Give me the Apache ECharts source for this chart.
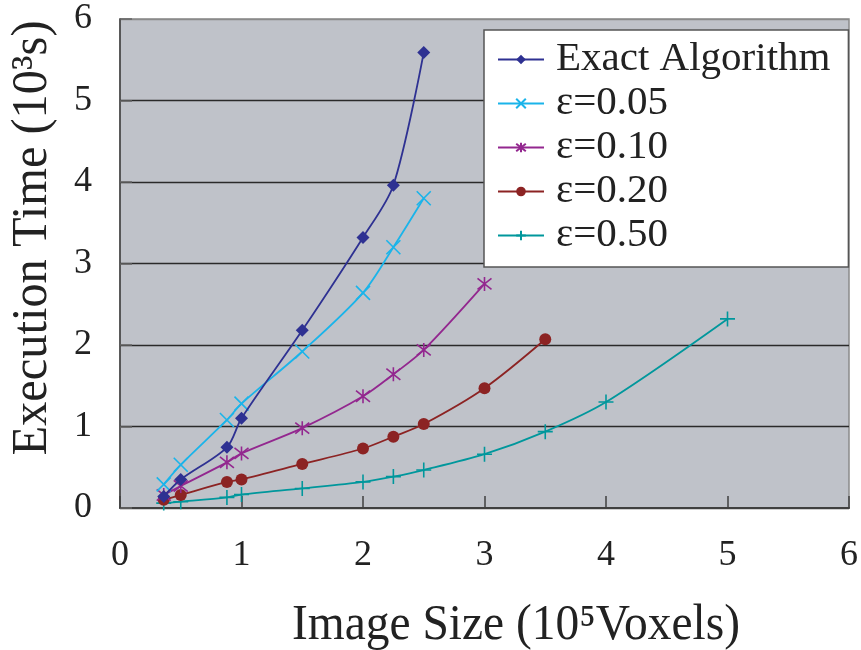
<!DOCTYPE html>
<html>
<head>
<meta charset="utf-8">
<script src="https://cdn.jsdelivr.net/npm/echarts@6/dist/echarts.min.js"></script>
<style>html,body{margin:0;padding:0;background:#fff;}#c{width:861px;height:650px;}</style>
</head>
<body>
<div id="c"></div>
<script>
// ---- data ----
var seriesNames = ['Exact Algorithm', 'ε=0.05', 'ε=0.10', 'ε=0.20', 'ε=0.50'];
var sizes = [0.36, 0.5, 0.88, 1.0, 1.5, 2.0, 2.25, 2.5, 3.0, 3.5, 4.0, 5.0];
var exactTimes = [0.14, 0.35, 0.745, 1.10, 2.18, 3.32, 3.96, 5.59];
var eps005Times = [0.29, 0.53, 1.08, 1.28, 1.92, 2.64, 3.20, 3.80];
var eps010Times = [0.16, 0.27, 0.56, 0.67, 0.98, 1.37, 1.64, 1.94, 2.75];
var eps020Times = [0.10, 0.16, 0.32, 0.35, 0.54, 0.73, 0.875, 1.03, 1.47, 2.07];
var eps050Times = [0.06, 0.077, 0.13, 0.165, 0.24, 0.32, 0.385, 0.466, 0.66, 0.937, 1.30, 2.32];
var xTicks = [0, 1, 2, 3, 4, 5, 6];
var yTicks = [0, 1, 2, 3, 4, 5, 6];
var xTitle = 'Image Size (10⁵Voxels)';
var yTitle = 'Execution Time (10³s)';

// ---- styling ----
var colors = ['#2e3192', '#1ab4ea', '#93278f', '#8c2323', '#00979c'];
var symbols = [
  'diamond',
  'path://M0,0L10,10M10,0L0,10',
  'path://M0,1L10,9M10,1L0,9M5,0L5,10',
  'circle',
  'path://M5,0L5,10M0,5L10,5'
];
var symbolSizes = [13, 14, 14, 12, 15];
var allTimes = [exactTimes, eps005Times, eps010Times, eps020Times, eps050Times];

function pairs(ys) { return ys.map(function (v, i) { return [sizes[i], v]; }); }

var series = seriesNames.map(function (name, k) {
  var stroke = typeof symbols[k] === 'string' && symbols[k].indexOf('path://') === 0;
  return {
    name: name,
    type: 'line',
    smooth: 0.3,
    data: pairs(allTimes[k]),
    symbol: symbols[k],
    symbolSize: symbolSizes[k],
    lineStyle: { color: colors[k], width: 1.8 },
    itemStyle: stroke ? { color: colors[k], borderColor: colors[k], borderWidth: 1.6 } : { color: colors[k] },
    z: 10 - k
  };
});

var serifFont = '"Liberation Serif", "Times New Roman", serif';
var titleFont = '50px "Liberation Serif", serif';
var mctx = document.createElement('canvas').getContext('2d');
mctx.font = titleFont;
function fitScale(text, target) { return target / mctx.measureText(text).width; }

var chart = echarts.init(document.getElementById('c'), null, { renderer: 'canvas' });
chart.setOption({
  animation: false,
  backgroundColor: '#ffffff',
  grid: { left: 120, right: 2, top: 19, bottom: 142, show: true, backgroundColor: '#bfc2c9', borderColor: '#8a8a8a', borderWidth: 1.5 },
  xAxis: {
    type: 'value', min: xTicks[0], max: xTicks[xTicks.length - 1], interval: 1,
    axisLine: { show: true, lineStyle: { color: '#404040', width: 2 } },
    axisTick: { show: true, inside: true, length: 12, lineStyle: { color: '#404040', width: 1.5 } },
    splitLine: { show: false },
    axisLabel: { margin: 30, color: '#222', fontFamily: serifFont, fontSize: 36 }
  },
  yAxis: {
    type: 'value', min: yTicks[0], max: yTicks[yTicks.length - 1], interval: 1,
    axisLine: { show: true, lineStyle: { color: '#404040', width: 1.5 } },
    axisTick: { show: true, inside: true, length: 12, lineStyle: { color: '#666', width: 1.5 } },
    splitLine: { show: true, lineStyle: { color: ['#404040', '#2a2a2a', '#2a2a2a', '#2a2a2a', '#2a2a2a', '#2a2a2a', '#8a8a8a'], width: 1.3 } },
    axisLabel: { margin: 28, color: '#222', fontFamily: serifFont, fontSize: 36 }
  },
  legend: {
    orient: 'vertical', left: 484, top: 30,
    data: seriesNames,
    itemWidth: 46, itemHeight: 12, itemGap: 3,
    padding: [9, 18, 11, 13],
    backgroundColor: '#ffffff', borderColor: '#555', borderWidth: 1.5,
    textStyle: { fontFamily: serifFont, fontSize: 41, color: '#222', padding: [0, 0, 0, 7] }
  },
  graphic: [
    { type: 'text', x: 516, y: 626, scaleX: fitScale(xTitle, 448), z: 100,
      style: { text: xTitle, font: titleFont, fill: '#222', textAlign: 'center', textVerticalAlign: 'middle' } },
    { type: 'text', x: 33, y: 238, rotation: Math.PI / 2, scaleX: fitScale(yTitle, 435), z: 100,
      style: { text: yTitle, font: titleFont, fill: '#222', textAlign: 'center', textVerticalAlign: 'middle' } }
  ],
  series: series
});
</script>
</body>
</html>
